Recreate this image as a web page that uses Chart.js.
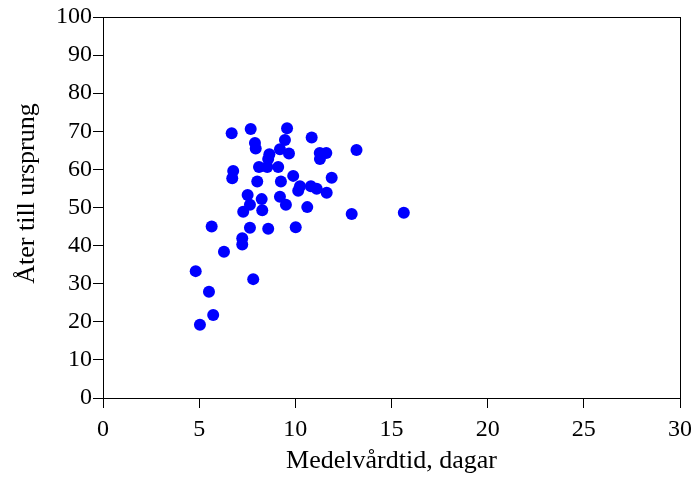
<!DOCTYPE html>
<html>
<head>
<meta charset="utf-8">
<script src="https://cdn.jsdelivr.net/npm/chart.js@4"></script>
<style>
  body { margin: 0; background: #fff; }
  #wrap { width: 691px; height: 477px; }
</style>
</head>
<body>
<div id="wrap"><canvas id="myChart" width="691" height="477"></canvas></div>
<script>
// medelvårdtid (dagar) and återinskrivning till ursprung
var vardtid = [4.82, 5.04, 5.51, 5.73, 5.65, 6.29, 6.69, 6.77, 6.72, 7.24, 7.24, 7.29, 7.52, 7.64, 7.68, 7.64, 7.81,
  7.90, 7.94, 8.02, 8.11, 8.25, 8.28, 8.54, 8.59, 8.65, 8.59, 9.11, 9.20, 9.20, 9.25, 9.46, 9.51, 9.57, 9.67, 9.89,
  10.02, 10.24, 10.15, 10.62, 10.81, 10.85, 11.11, 11.27, 11.28, 11.61, 11.63, 11.89, 12.93, 13.18, 15.64];
var ursprung = [33.3, 19.2, 27.9, 21.8, 45.0, 38.4, 69.5, 59.6, 57.7, 41.9, 40.3, 48.9, 53.3, 50.7, 70.6, 44.7, 31.2,
  66.9, 65.5, 56.8, 60.6, 52.2, 49.3, 60.6, 44.4, 64.0, 62.7, 60.6, 65.3, 52.8, 56.8, 67.7, 50.7, 70.8, 64.2, 58.3,
  44.8, 55.6, 54.4, 50.1, 55.6, 68.4, 54.9, 64.3, 62.7, 64.3, 53.9, 57.8, 48.3, 65.1, 48.6];

var xTicks = [0, 5, 10, 15, 20, 25, 30];
var yTicks = [0, 10, 20, 30, 40, 50, 60, 70, 80, 90, 100];
var xTitle = 'Medelvårdtid, dagar';
var yTitle = 'Åter till ursprung';

var points = vardtid.map(function (v, i) { return { x: v, y: ursprung[i] }; });

var serif = 'Liberation Serif, Times New Roman, serif';

// box round the plot area, and the y title (sits a bit above the middle in the original)
var frame = {
  id: 'frame',
  afterDraw: function (chart) {
    var a = chart.chartArea, c = chart.ctx;
    c.save();
    c.strokeStyle = '#000';
    c.lineWidth = 1;
    c.strokeRect(Math.round(a.left) + 0.5, Math.round(a.top) + 0.5,
      Math.round(a.right - a.left), Math.round(a.bottom - a.top));
    c.translate(27, (a.top + a.bottom) / 2 - 14);
    c.rotate(-Math.PI / 2);
    c.fillStyle = '#000';
    c.font = '26px ' + serif;
    c.textAlign = 'center';
    c.textBaseline = 'middle';
    c.fillText(yTitle, 0, 0);
    c.restore();
  }
};

function makeChart() {
  var ctx = document.getElementById('myChart').getContext('2d');
  new Chart(ctx, {
    type: 'scatter',
    data: {
      datasets: [{
        data: points,
        backgroundColor: '#0000ff',
        borderColor: '#0000ff',
        pointRadius: 6,
        pointHoverRadius: 6,
        borderWidth: 0
      }]
    },
    options: {
      responsive: false,
      animation: false,
      layout: { padding: { top: 17, right: 11, left: 0, bottom: 0 } },
      plugins: { legend: { display: false }, tooltip: { enabled: false } },
      scales: {
        x: {
          type: 'linear',
          min: 0, max: 30,
          afterBuildTicks: function (s) { s.ticks = xTicks.map(function (v) { return { value: v }; }); },
          afterFit: function (s) { s.height = 79; s.paddingLeft = 0; s.paddingRight = 0; },
          border: { display: true, color: '#000' },
          grid: { drawOnChartArea: false, drawTicks: true, tickLength: 10, color: '#000' },
          ticks: { color: '#000', font: { family: serif, size: 24 }, padding: 7, maxRotation: 0 },
          title: { display: true, text: xTitle, color: '#000',
            font: { family: serif, size: 26 }, padding: { top: 0, bottom: 0 } }
        },
        y: {
          type: 'linear',
          min: 0, max: 100,
          afterBuildTicks: function (s) { s.ticks = yTicks.map(function (v) { return { value: v }; }); },
          afterFit: function (s) { s.width = 103; s.paddingTop = 0; s.paddingBottom = 0; },
          border: { display: true, color: '#000' },
          grid: { drawOnChartArea: false, drawTicks: true, tickLength: 10, color: '#000' },
          ticks: { color: '#000', font: { family: serif, size: 24 }, padding: 1 }
        }
      }
    },
    plugins: [frame]
  });
}

makeChart();
</script>
</body>
</html>
